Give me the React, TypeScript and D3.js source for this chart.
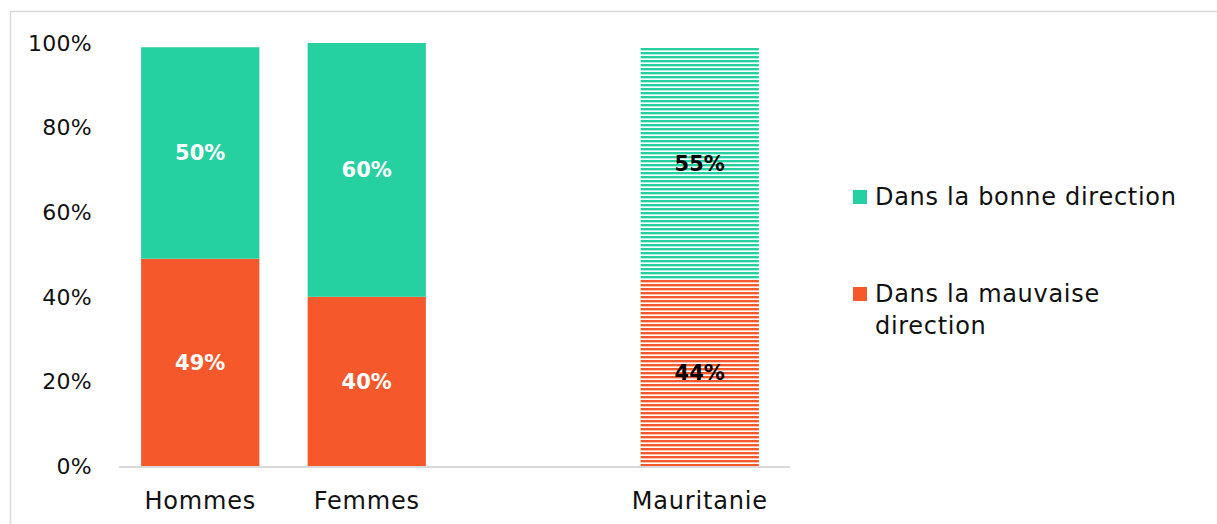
import React from 'react';
import * as d3 from 'd3';

const categories = ['Hommes', 'Femmes', '', 'Mauritanie'];
const bonne = [50, 60, null, 55];
const mauvaise = [49, 40, null, 44];
const yTicks = [0, 20, 40, 60, 80, 100];
const legendItems = [
  { key: 'bonne', lines: ['Dans la bonne direction'], color: '#25d1a1' },
  { key: 'mauvaise', lines: ['Dans la mauvaise', 'direction'], color: '#f4582b' },
];

const W = 1217;
const H = 524;
const FONT = '"DejaVu Sans", sans-serif';

export default function App() {
  const x = d3.scaleBand<string>().domain(categories.map((c, i) => c || `gap${i}`)).range([117, 783]).paddingInner(0.29).paddingOuter(0.145);
  const y = d3.scaleLinear().domain([0, 100]).range([466, 43]);
  const green = legendItems[0].color;
  const orange = legendItems[1].color;

  const bars = categories.map((c, i) => {
    const key = c || `gap${i}`;
    const b = mauvaise[i];
    const g = bonne[i];
    if (b == null || g == null) return null;
    const x0 = x(key)!;
    const bw = x.bandwidth();
    const hatched = c === 'Mauritanie';
    const labelColor = hatched ? '#000' : '#fff';
    return (
      <g key={key}>
        <rect x={x0} y={y(b)} width={bw} height={y(0) - y(b)} fill={hatched ? 'url(#stripeOrange)' : orange} />
        <rect x={x0} y={y(b + g)} width={bw} height={y(b) - y(b + g)} fill={hatched ? 'url(#stripeGreen)' : green} />
        <text x={x0 + bw / 2} y={(y(0) + y(b)) / 2} dy="0.35em" textAnchor="middle" fontWeight="bold" fontSize={21} fill={labelColor}>{b}%</text>
        <text x={x0 + bw / 2} y={(y(b) + y(b + g)) / 2} dy="0.35em" textAnchor="middle" fontWeight="bold" fontSize={21} fill={labelColor}>{g}%</text>
      </g>
    );
  });

  return (
    <svg width={W} height={H} style={{ position: 'absolute', left: 0, top: 0, fontFamily: FONT }}>
      <defs>
        <pattern id="stripeGreen" width={8} height={4} patternUnits="userSpaceOnUse">
          <rect width={8} height={4} fill="#fff" />
          <rect y={0} width={8} height={2} fill={green} />
          <rect y={2} width={8} height={1} fill={green} opacity={0.35} />
        </pattern>
        <pattern id="stripeOrange" width={8} height={4} patternUnits="userSpaceOnUse">
          <rect width={8} height={4} fill="#fff" />
          <rect y={0} width={8} height={2} fill={orange} />
          <rect y={2} width={8} height={1} fill={orange} opacity={0.35} />
        </pattern>
      </defs>
      <rect x={0} y={0} width={W} height={H} fill="#fff" />
      <rect x={10.5} y={11.5} width={W} height={H} fill="none" stroke="#d9d9d9" strokeWidth={1.5} />

      {yTicks.map(t => (
        <text key={t} x={92} y={y(t)} dy="0.35em" textAnchor="end" fontSize={22} letterSpacing={0.3} fill="#111">{t}%</text>
      ))}

      {bars}

      <line x1={119} x2={790} y1={y(0) + 1} y2={y(0) + 1} stroke="#d9d9d9" strokeWidth={2} />

      {categories.map((c, i) => c ? (
        <text key={c} x={x(c)! + x.bandwidth() / 2} y={509} textAnchor="middle" fontSize={24} letterSpacing={0.8} fill="#111">{c}</text>
      ) : null)}

      {legendItems.map((item, i) => {
        const top = i === 0 ? 190 : 287;
        return (
          <g key={item.key}>
            <rect x={853} y={top} width={14} height={14} fill={item.color} />
            {item.lines.map((ln, j) => (
              <text key={j} x={875} y={top + 15 + j * 32} fontSize={24} letterSpacing={0.7} fill="#111">{ln}</text>
            ))}
          </g>
        );
      })}
    </svg>
  );
}
